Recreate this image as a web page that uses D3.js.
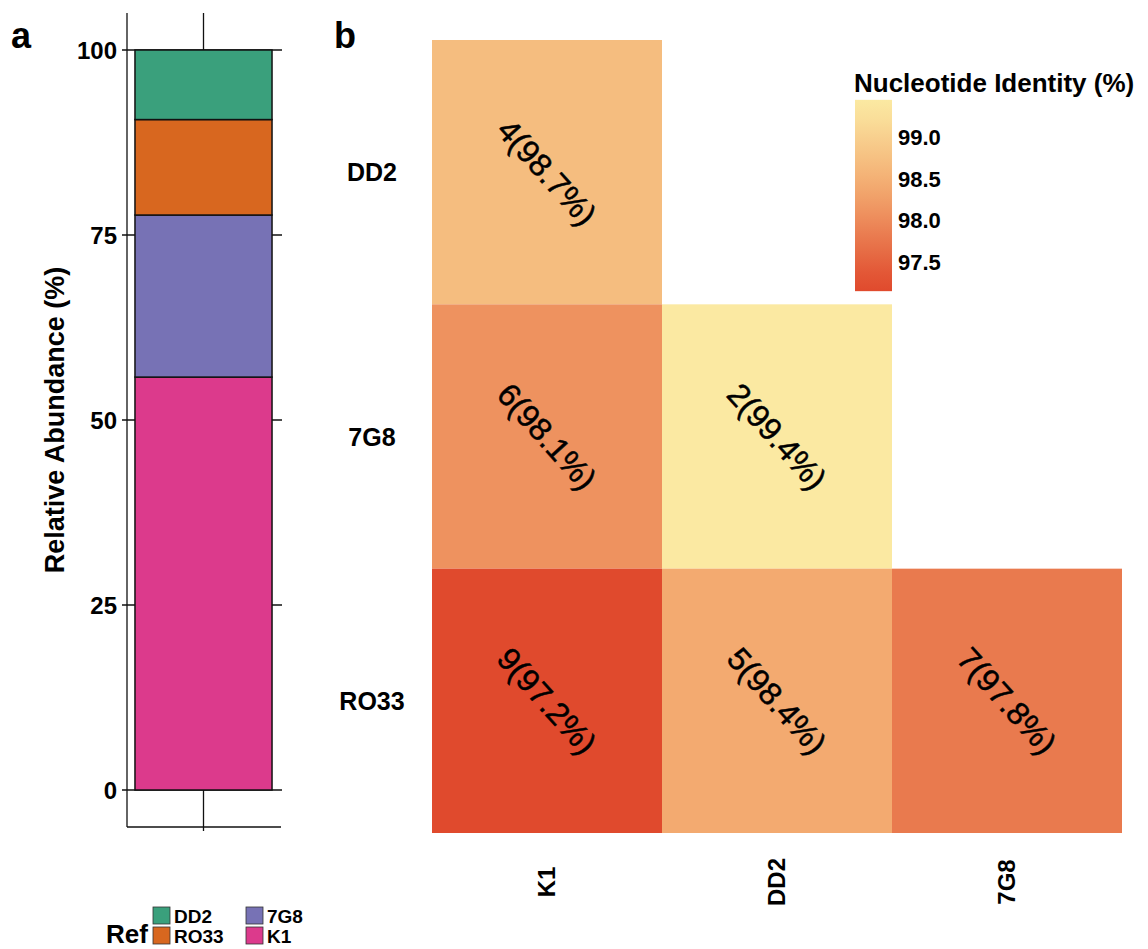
<!DOCTYPE html>
<html>
<head>
<meta charset="utf-8">
<script src="https://cdn.jsdelivr.net/npm/d3@7"></script>
<style>
  body { margin: 0; background: #fff; }
  svg { display: block; font-family: "Liberation Sans", Arial, sans-serif; }
</style>
</head>
<body>
<svg id="chart" width="1148" height="949"></svg>
<script>
// panel a: relative abundance, stacked bottom -> top
const refs = ['K1', '7G8', 'RO33', 'DD2'];
const abundance = [55.8, 21.9, 12.9, 9.4];
const refColors = ['#dc3a8c', '#7772b5', '#d8671f', '#3aa07c'];
const abundanceTicks = [0, 25, 50, 75, 100];

// legend order
const legendRefs = ['DD2', 'RO33', '7G8', 'K1'];

// panel b: pairwise comparisons
const colLabels = ['K1', 'DD2', '7G8'];
const rowLabels = ['DD2', '7G8', 'RO33'];
const pairRow = ['DD2', '7G8', '7G8', 'RO33', 'RO33', 'RO33'];
const pairCol = ['K1', 'K1', 'DD2', 'K1', 'DD2', '7G8'];
const snpCount = [4, 6, 2, 9, 5, 7];
const identity = [98.7, 98.1, 99.4, 97.2, 98.4, 97.8];
const identityTicks = [97.5, 98.0, 98.5, 99.0];

const svg = d3.select('#chart');

// ---------- panel a ----------
const y = d3.scaleLinear().domain([0, 100]).range([790, 50]);
const xA = d3.scaleBand().domain(['']).range([127, 280]).padding(0.055);
const gA = svg.append('g');

// grid lines (sit behind the bar)
gA.selectAll('line.grid')
  .data(abundanceTicks)
  .enter().append('line')
  .attr('x1', 122).attr('x2', 282)
  .attr('y1', d => y(d)).attr('y2', d => y(d))
  .attr('stroke', '#111').attr('stroke-width', 1.3);

gA.append('line')
  .attr('x1', 203.5).attr('x2', 203.5)
  .attr('y1', 13).attr('y2', 831)
  .attr('stroke', '#111').attr('stroke-width', 1.3);

// axis frame
gA.append('line')
  .attr('x1', 127).attr('x2', 127).attr('y1', 13).attr('y2', 827)
  .attr('stroke', '#111').attr('stroke-width', 1.3);
gA.append('line')
  .attr('x1', 127).attr('x2', 281).attr('y1', 827).attr('y2', 827)
  .attr('stroke', '#111').attr('stroke-width', 1.3);

const ends = d3.cumsum(abundance);
gA.selectAll('rect.seg')
  .data(refs)
  .enter().append('rect')
  .attr('x', xA(''))
  .attr('width', xA.bandwidth())
  .attr('y', (d, i) => y(ends[i]))
  .attr('height', (d, i) => y(ends[i] - abundance[i]) - y(ends[i]))
  .attr('fill', (d, i) => refColors[i])
  .attr('stroke', '#111').attr('stroke-width', 1.5);

gA.selectAll('text.tick')
  .data(abundanceTicks)
  .enter().append('text')
  .attr('x', 117)
  .attr('y', d => y(d))
  .attr('dy', '0.36em')
  .attr('text-anchor', 'end')
  .attr('font-size', 24).attr('font-weight', 'bold')
  .text(d => d);

gA.append('text')
  .attr('transform', 'translate(64, 420) rotate(-90)')
  .attr('text-anchor', 'middle')
  .attr('font-size', 27).attr('font-weight', 'bold')
  .text('Relative Abundance (%)');

svg.append('text')
  .attr('x', 11).attr('y', 48)
  .attr('font-size', 36).attr('font-weight', 'bold')
  .text('a');

// legend
const legend = svg.append('g');
legend.append('text')
  .attr('x', 106).attr('y', 943)
  .attr('font-size', 26).attr('font-weight', 'bold')
  .text('Ref');
legendRefs.forEach((r, i) => {
  const col = Math.floor(i / 2), row = i % 2;
  const lx = 153 + col * 93, ly = 907 + row * 20;
  legend.append('rect')
    .attr('x', lx).attr('y', ly)
    .attr('width', 17).attr('height', 17)
    .attr('fill', refColors[refs.indexOf(r)])
    .attr('stroke', '#333').attr('stroke-width', 0.8);
  legend.append('text')
    .attr('x', lx + 21).attr('y', ly + 16)
    .attr('font-size', 19).attr('font-weight', 'bold')
    .text(r);
});

// ---------- panel b ----------
const xB = d3.scaleBand().domain(colLabels).range([432, 1122]);
const yB = d3.scaleBand().domain(rowLabels).range([40, 833]);
const color = d3.scaleLinear()
  .domain([97.2, 98.4, 99.4])
  .range(['#e04a2d', '#f3aa70', '#fbe9a2']);

const cells = snpCount.map((c, i) => ({
  row: pairRow[i], col: pairCol[i], count: c, ident: identity[i]
}));

const gB = svg.append('g');
gB.selectAll('rect.cell')
  .data(cells)
  .enter().append('rect')
  .attr('x', d => xB(d.col))
  .attr('y', d => yB(d.row))
  .attr('width', xB.bandwidth())
  .attr('height', yB.bandwidth())
  .attr('fill', d => color(d.ident));

gB.selectAll('text.cell')
  .data(cells)
  .enter().append('text')
  .attr('transform', d => `translate(${xB(d.col) + xB.bandwidth() / 2}, ${yB(d.row) + yB.bandwidth() / 2}) rotate(48)`)
  .attr('text-anchor', 'middle')
  .attr('dy', '0.35em')
  .attr('font-size', 32)
  .attr('fill', '#000')
  .attr('stroke', '#000').attr('stroke-width', 0.5)
  .text(d => `${d.count}(${d.ident.toFixed(1)}%)`);

gB.selectAll('text.row')
  .data(rowLabels)
  .enter().append('text')
  .attr('x', 372)
  .attr('y', d => yB(d) + yB.bandwidth() / 2)
  .attr('dy', '0.36em')
  .attr('text-anchor', 'middle')
  .attr('font-size', 25).attr('font-weight', 'bold')
  .text(d => d);

gB.selectAll('text.col')
  .data(colLabels)
  .enter().append('text')
  .attr('transform', d => `translate(${xB(d) + xB.bandwidth() / 2 + 8}, 882) rotate(-90)`)
  .attr('text-anchor', 'middle')
  .attr('font-size', 24).attr('font-weight', 'bold')
  .text(d => d);

svg.append('text')
  .attr('x', 334).attr('y', 48)
  .attr('font-size', 36).attr('font-weight', 'bold')
  .text('b');

// colour bar
const cb = d3.scaleLinear().domain([97.2, 99.4]).range([287, 104]);
const defs = svg.append('defs');
const grad = defs.append('linearGradient')
  .attr('id', 'idgrad')
  .attr('x1', 0).attr('y1', 1).attr('x2', 0).attr('y2', 0);
d3.range(0, 1.0001, 0.1).forEach(t => {
  const v = 97.15 + t * (99.45 - 97.15);
  grad.append('stop')
    .attr('offset', t)
    .attr('stop-color', color(Math.max(97.2, Math.min(99.4, v))));
});
svg.append('rect')
  .attr('x', 855).attr('y', cb(99.45))
  .attr('width', 37).attr('height', cb(97.15) - cb(99.45))
  .attr('fill', 'url(#idgrad)');

svg.selectAll('text.cbtick')
  .data(identityTicks)
  .enter().append('text')
  .attr('x', 898)
  .attr('y', d => cb(d))
  .attr('dy', '0.36em')
  .attr('font-size', 22).attr('font-weight', 'bold')
  .text(d => d.toFixed(1));

svg.append('text')
  .attr('x', 854).attr('y', 92)
  .attr('font-size', 26).attr('font-weight', 'bold')
  .text('Nucleotide Identity (%)');
</script>
</body>
</html>
